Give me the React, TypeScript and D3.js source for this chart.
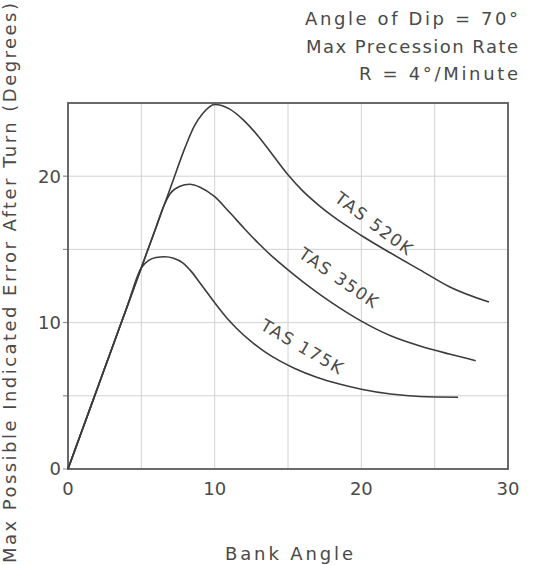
import React from "react";
import * as d3 from "d3";

// ---- Data ----
const xTickValues = [0, 10, 20, 30];
const yTickValues = [0, 10, 20];
const xGridValues = [5, 10, 15, 20, 25];
const yGridValues = [5, 10, 15, 20];

const seriesNames = ["TAS 520K", "TAS 350K", "TAS 175K"];

const bank520 = [0, 1, 2, 3, 4, 5, 6, 7, 8, 8.6, 9.2, 10, 11, 12, 13, 14, 15, 16, 17, 18, 20, 22, 24, 26, 28.7];
const error520 = [0, 2.75, 5.5, 8.25, 11, 13.75, 16.5, 19.25, 22.0, 23.4, 24.3, 24.9, 24.6, 23.8, 22.7, 21.4, 20.1, 19.0, 18.1, 17.3, 15.95, 14.75, 13.6, 12.45, 11.4];

const bank350 = [0, 1, 2, 3, 4, 5, 6, 6.5, 7.0, 7.6, 8.3, 9.0, 10, 11, 12, 13, 14, 15, 16, 17, 18, 19, 20, 22, 24, 26, 27.8];
const error350 = [0, 2.75, 5.5, 8.25, 11, 13.75, 16.5, 17.9, 18.85, 19.3, 19.45, 19.25, 18.6, 17.55, 16.45, 15.4, 14.45, 13.6, 12.8, 12.05, 11.35, 10.7, 10.1, 9.1, 8.4, 7.85, 7.4];

const bank175 = [0, 1, 2, 3, 4, 5.0, 5.5, 6.0, 6.6, 7.2, 7.8, 8.4, 9.0, 9.6, 10.2, 10.8, 11.5, 12.5, 13.5, 14.5, 15.5, 17, 18.5, 20, 22, 24, 26.6];
const error175 = [0, 2.75, 5.5, 8.25, 11, 13.75, 14.25, 14.45, 14.5, 14.4, 14.1, 13.5, 12.7, 11.9, 11.1, 10.35, 9.6, 8.7, 7.95, 7.35, 6.85, 6.25, 5.8, 5.45, 5.12, 4.95, 4.9];

const titleLines = ["Angle of Dip = 70°", "Max Precession Rate", "R = 4°/Minute"];
const xAxisTitle = "Bank Angle";
const yAxisTitle = "Max Possible Indicated Error After Turn (Degrees)";

export default function App() {
  const W = 533;
  const H = 565;
  const x = d3.scaleLinear().domain([0, 30]).range([68, 508]);
  const y = d3.scaleLinear().domain([0, 25]).range([469, 103]);

  const font = "'DejaVu Sans', sans-serif";
  const textColor = "#4a4a4a";
  const lineColor = "#3c3c3c";

  const series = [
    { name: seriesNames[0], xs: bank520, ys: error520 },
    { name: seriesNames[1], xs: bank350, ys: error350 },
    { name: seriesNames[2], xs: bank175, ys: error175 },
  ];

  const lineGen = d3
    .line<[number, number]>()
    .x((d) => x(d[0]))
    .y((d) => y(d[1]))
    .curve(d3.curveMonotoneX);

  // label layout (data-space anchor + rotation)
  const labelLayout = [
    { bx: 20.9, by: 16.75, angle: 37 },
    { bx: 18.5, by: 13.05, angle: 34.5 },
    { bx: 16.0, by: 8.35, angle: 30 },
  ];

  const titleLayout = [
    { yPos: 25, len: 213 },
    { yPos: 53, len: 212 },
    { yPos: 80, len: 159 },
  ];

  return (
    <svg
      width={W}
      height={H}
      style={{ position: "absolute", left: 0, top: 0, background: "#fff" }}
      fontFamily={font}
    >
      {/* grid */}
      {xGridValues.map((v) => (
        <line key={"gx" + v} x1={x(v)} x2={x(v)} y1={y(25)} y2={y(0)} stroke="#d2d2d2" strokeWidth={1} />
      ))}
      {yGridValues.map((v) => (
        <line key={"gy" + v} x1={x(0) - 5} x2={x(30)} y1={y(v)} y2={y(v)} stroke="#d2d2d2" strokeWidth={1} />
      ))}
      {/* ticks on y axis */}
      {[0, 5, 10, 15, 20].map((v) => (
        <line key={"ty" + v} x1={x(0) - 5} x2={x(0)} y1={y(v)} y2={y(v)} stroke="#8a8a8a" strokeWidth={1} />
      ))}
      {/* frame */}
      <rect
        x={x(0)}
        y={y(25)}
        width={x(30) - x(0)}
        height={y(0) - y(25)}
        fill="none"
        stroke="#5a5a5a"
        strokeWidth={1.8}
      />
      {/* curves */}
      {series.map((s) => (
        <path
          key={s.name}
          d={lineGen(s.xs.map((b, i) => [b, s.ys[i]] as [number, number])) || ""}
          fill="none"
          stroke={lineColor}
          strokeWidth={1.6}
          strokeLinejoin="round"
        />
      ))}
      {/* curve labels */}
      {series.map((s, i) => {
        const L = labelLayout[i];
        const cx = x(L.bx);
        const cy = y(L.by);
        return (
          <text
            key={"lab" + s.name}
            transform={`translate(${cx},${cy}) rotate(${L.angle})`}
            textAnchor="middle"
            dy="0.36em"
            fontSize={17}
            letterSpacing={1.6}
            fill={textColor}
          >
            {s.name}
          </text>
        );
      })}
      {/* tick labels */}
      {xTickValues.map((v) => (
        <text key={"xl" + v} x={x(v)} y={495} textAnchor="middle" fontSize={18} fill={textColor}>
          {v}
        </text>
      ))}
      {yTickValues.map((v) => (
        <text key={"yl" + v} x={61} y={y(v)} dy="0.36em" textAnchor="end" fontSize={18} fill={textColor}>
          {v}
        </text>
      ))}
      {/* titles */}
      {titleLines.map((t, i) => (
        <text
          key={"t" + i}
          x={518}
          y={titleLayout[i].yPos}
          textAnchor="end"
          fontSize={18}
          fill={textColor}
          textLength={titleLayout[i].len}
          lengthAdjust="spacing"
        >
          {t}
        </text>
      ))}
      <text x={289} y={560} textAnchor="middle" fontSize={18} fill={textColor} textLength={128} lengthAdjust="spacing">
        {xAxisTitle}
      </text>
      <text
        transform={`translate(16,283) rotate(-90)`}
        textAnchor="middle"
        fontSize={18}
        fill={textColor}
        textLength={560}
        lengthAdjust="spacing"
      >
        {yAxisTitle}
      </text>
    </svg>
  );
}
